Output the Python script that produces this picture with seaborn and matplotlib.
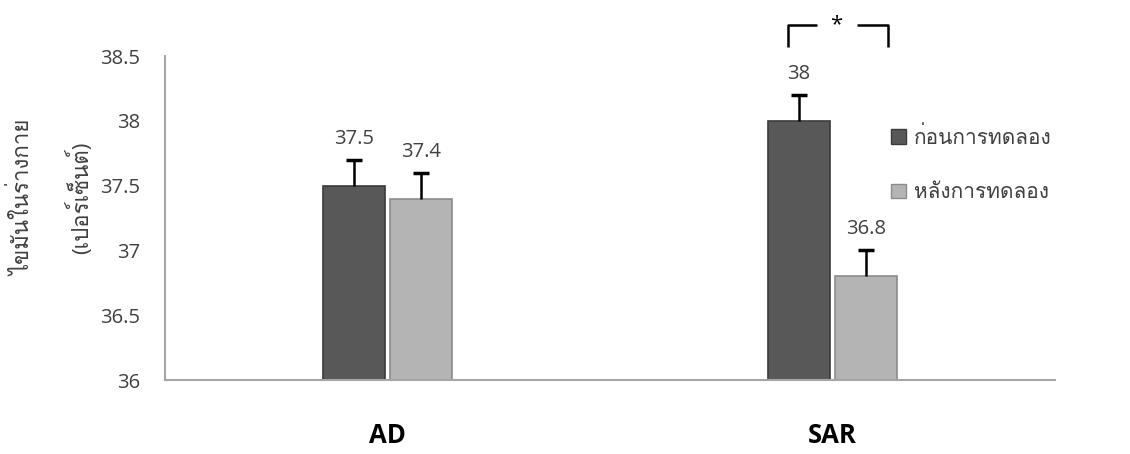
import matplotlib
matplotlib.use("Agg")
import matplotlib.pyplot as plt
from matplotlib import font_manager
from matplotlib.ft2font import FT2Font
from matplotlib.patches import Patch
import seaborn as sns
import pandas as pd

# ---- data ----
categories = ["AD", "SAR"]
series = ["ก่อนการทดลอง", "หลังการทดลอง"]
before = [37.5, 38.0]
after = [37.4, 36.8]
err_before = [0.2, 0.2]
err_after = [0.2, 0.2]
value_labels_before = ["37.5", "38"]
value_labels_after = ["37.4", "36.8"]
y_ticks = [36, 36.5, 37, 37.5, 38, 38.5]
y_tick_labels = ["36", "36.5", "37", "37.5", "38", "38.5"]
ylabel_lines = ["ไขมันในร่างกาย", "(เปอร์เซ็นต์)"]
sig_text = "*"

# ---- find a font with Thai glyphs ----
thai_family = None
for f in font_manager.fontManager.ttflist:
    try:
        cm = FT2Font(f.fname).get_charmap()
        if 0x0E01 in cm and 0x0E40 in cm:
            thai_family = f.name
            break
    except Exception:
        pass

sns.set_theme(style="white")
fams = ["Open Sans", "DejaVu Sans"]
if thai_family:
    fams = ["Open Sans", thai_family, "DejaVu Sans"]
plt.rcParams["font.family"] = fams

dark = "#585858"
light = "#b4b4b4"
text_col = "#404040"

df = pd.DataFrame({
    "group": categories * 2,
    "time": [series[0]] * len(categories) + [series[1]] * len(categories),
    "value": before + after,
})

fig = plt.figure(figsize=(11.30, 4.54), dpi=100)
ax = fig.add_axes([165 / 1130, 1 - 380 / 454, 890 / 1130, 324 / 454])

sns.barplot(data=df, x="group", y="value", hue="time", order=categories,
            hue_order=series, palette=[dark, light], width=0.30, gap=0.075,
            errorbar=None, ax=ax, legend=False, linewidth=1.2,
            edgecolor="#3a3a3a")

for cont, ec in zip(ax.containers, ["#3a3a3a", "#8c8c8c"]):
    for bar in cont:
        bar.set_edgecolor(ec)

ax.set_xlim(-0.5, 1.5)
ax.set_ylim(36, 38.5)
ax.set_yticks(y_ticks)
ax.set_yticklabels(y_tick_labels)
ax.set_xlabel("")
ax.set_ylabel("")

for s in ["top", "right"]:
    ax.spines[s].set_visible(False)
for s in ["left", "bottom"]:
    ax.spines[s].set_color("#a6a6a6")
    ax.spines[s].set_linewidth(1.5)

ax.tick_params(axis="y", length=0, labelsize=14.5, labelcolor=text_col, pad=18)
ax.tick_params(axis="x", length=0, labelsize=18.5, labelcolor="black", pad=30)
for lab in ax.get_xticklabels():
    lab.set_fontweight("bold")

# error bars (upper only, single cap) + value labels
all_vals = [before, after]
all_errs = [err_before, err_after]
all_labs = [value_labels_before, value_labels_after]
for cont, vals, errs, labs in zip(ax.containers, all_vals, all_errs, all_labs):
    xs = [b.get_x() + b.get_width() / 2 for b in cont]
    eb = ax.errorbar(xs, vals, yerr=[[0] * len(errs), errs], fmt="none",
                     ecolor="black", elinewidth=1.8, capsize=5.5, capthick=2.5,
                     zorder=5)
    eb[1][0].set_visible(False)  # hide lower caps
    for x, v, e, t in zip(xs, vals, errs, labs):
        ax.annotate(t, (x, v + e), xytext=(0, 8), textcoords="offset points",
                    ha="center", va="bottom", fontsize=14.5, color=text_col)

# significance bracket (SAR)
bx0, bx1 = 0.90, 1.125
by_top, by_bot = 38.74, 38.57
lw = 1.8
ax.plot([bx0, bx0, 0.965], [by_bot, by_top, by_top], color="black", lw=lw,
        clip_on=False, solid_capstyle="butt")
ax.plot([1.055, bx1, bx1], [by_top, by_top, by_bot], color="black", lw=lw,
        clip_on=False, solid_capstyle="butt")
ax.text(1.008, by_top, sig_text, ha="center", va="center", fontsize=16,
        color="black", clip_on=False)

# y-axis label (two lines)
fig.text(24 / 1130, 1 - 198 / 454, ylabel_lines[0], rotation=90,
         ha="center", va="center", fontsize=16, color=text_col)
fig.text(80 / 1130, 1 - 198 / 454, ylabel_lines[1], rotation=90,
         ha="center", va="center", fontsize=16, color=text_col)

# legend
handles = [Patch(facecolor=dark, edgecolor="#3a3a3a"),
           Patch(facecolor=light, edgecolor="#8c8c8c")]
fig.legend(handles, series, loc="upper left",
           bbox_to_anchor=(891 / 1130, 1 - 127 / 454), frameon=False,
           fontsize=15, handlelength=0.7, handleheight=0.7,
           handletextpad=0.4, labelspacing=1.6, borderpad=0,
           borderaxespad=0, labelcolor=text_col)

fig.savefig("out.png", dpi=100, facecolor="white")
